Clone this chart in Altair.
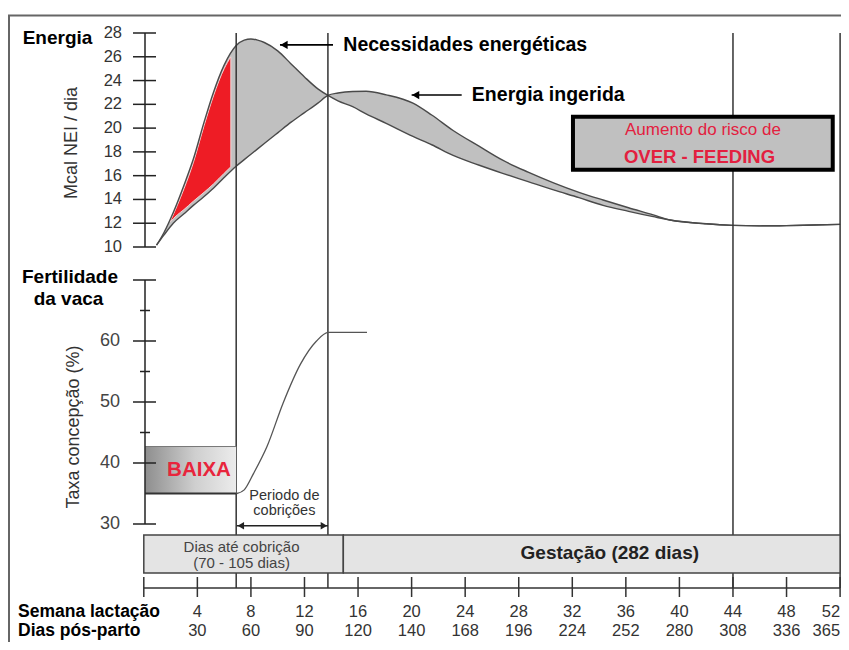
import altair as alt
import pandas as pd

FONT = "Liberation Sans, Arial, Helvetica, sans-serif"

# ---------------- data ----------------
# Energy curves: week of lactation -> Mcal NEl / day
curve_weeks = [0.95, 1.5, 2.2, 3.0, 3.7, 4.5, 5.2, 6.0, 6.9, 7.5, 8.0, 8.5, 9.0, 10.0,
               11.0, 12.0, 13.0, 13.75, 14.5, 15.6, 16.6, 18.1, 20.1, 21.5, 23.1, 25.0,
               26.8, 28.7, 30.6, 32.5, 34.3, 36.2, 38.05, 39.3, 42, 44, 46, 48, 50, 52]
needs_values = [10.15, 11.2, 12.9, 15.2, 17.4, 20.5, 23.0, 25.3, 26.95, 27.4, 27.5, 27.4,
                27.2, 26.5, 25.4, 24.3, 23.3, 22.75, 22.3, 21.8, 21.2, 20.4, 19.3, 18.6,
                17.7, 16.9, 16.2, 15.5, 14.8, 14.15, 13.5, 13.0, 12.55, 12.27, 11.95,
                11.82, 11.78, 11.8, 11.85, 11.9]
intake_values = [10.15, 11.0, 12.0, 12.8, 13.5, 14.25, 14.95, 15.85, 16.8, 17.35, 17.8,
                 18.25, 18.7, 19.6, 20.5, 21.3, 22.1, 22.75, 22.95, 23.08, 23.1, 22.8,
                 22.1, 21.1, 19.8, 18.5, 17.3, 16.3, 15.4, 14.6, 13.95, 13.3, 12.7, 12.27,
                 11.95, 11.82, 11.78, 11.8, 11.85, 11.9]

# Red deficit region
red_weeks = [1.95, 2.5, 3.0, 3.7, 4.5, 5.2, 6.0, 6.5]
red_upper = [12.1, 13.5, 14.9, 17.1, 20.2, 22.7, 25.0, 26.0]
red_lower = [12.1, 12.7, 13.15, 13.85, 14.6, 15.3, 16.2, 16.75]

# Fertility (conception rate %)
fert_weeks = [6.95, 7.5, 8.2, 9.2, 10.4, 11.7, 12.9, 13.78, 16.67]
fert_rate = [35.0, 35.6, 38.3, 42.7, 49.8, 56.2, 60.0, 61.4, 61.4]

# Axes
week_ticks = [0, 4, 8, 12, 16, 20, 24, 28, 32, 36, 40, 44, 48, 52]
week_labels = ["", "4", "8", "12", "16", "20", "24", "28", "32", "36", "40", "44", "48", "52"]
day_labels = ["", "30", "60", "90", "120", "140", "168", "196", "224", "252", "280", "308", "336", "365"]
energy_ticks = [10, 12, 14, 16, 18, 20, 22, 24, 26, 28]
fert_major = [30, 40, 50, 60, 70]
fert_minor = [45, 55, 65]
fert_labels = [30, 40, 50, 60]

# Vertical marker lines (weeks)
marker_weeks = [6.9, 13.75, 44, 52]
marker_top = [28, 28, 28, 28]

# Bottom band segments (weeks)
band_start = [0, 14.9]
band_end = [14.9, 52]

# Annotations
arrow_tip = [10.17, 20.0]
arrow_tail = [14.13, 23.74]
arrow_y = [27.0, 22.78]
arrow_text = ["Necessidades energéticas", "Energia ingerida"]
arrow_text_week = [14.9, 24.5]

box_x = [32.05, 51.45]
box_y = [16.5, 20.95]

baixa_x = [0.1, 6.9]
baixa_y = [35.0, 42.7]

period_x = [6.95, 13.75]
period_y = 29.72

# ---------------- layout (pixels; padding -8 so chart px == page px) ----------------
W, H = 841, 642
xs = alt.Scale(domain=[0, 52], range=[143.8, 840.1], nice=False, zero=False)
es = alt.Scale(domain=[10, 28], range=[247, 33], nice=False, zero=False)
fs = alt.Scale(domain=[30, 70], range=[524, 280], nice=False, zero=False)


def X(field):
    return alt.X(field, type="quantitative", scale=xs, axis=None)


def Y(field, scale):
    return alt.Y(field, type="quantitative", scale=scale, axis=None)


one = pd.DataFrame({"a": [0]})

# ---------------- frame ----------------
frame = alt.Chart(one).mark_rect(filled=False, stroke="#666", strokeWidth=2).encode(
    x=alt.value(9), x2=alt.value(W + 30), y=alt.value(15.5), y2=alt.value(H + 30))

# ---------------- energy panel ----------------
energy_df = pd.DataFrame({"week": curve_weeks, "needs": needs_values, "intake": intake_values})
red_df = pd.DataFrame({"week": red_weeks, "upper": red_upper, "lower": red_lower})

gap = alt.Chart(energy_df).mark_area(color="#c0c0c0", interpolate="monotone").encode(
    x=X("week"), y=Y("needs", es), y2="intake:Q")
red = alt.Chart(red_df).mark_area(color="#ee1c25", interpolate="monotone",
                                  stroke="#f3d3d3", strokeWidth=1).encode(
    x=X("week"), y=Y("upper", es), y2="lower:Q")
needs_line = alt.Chart(energy_df).mark_line(color="#4a4a4a", strokeWidth=1.4,
                                            interpolate="monotone").encode(
    x=X("week"), y=Y("needs", es))
intake_line = alt.Chart(energy_df).mark_line(color="#4a4a4a", strokeWidth=1.4,
                                             interpolate="monotone").encode(
    x=X("week"), y=Y("intake", es))

vlines = alt.Chart(pd.DataFrame({"week": marker_weeks, "top": marker_top})).mark_rule(
    color="#333", strokeWidth=1.5).encode(
    x=X("week"), y=Y("top", es), y2=alt.value(588))

box = alt.Chart(pd.DataFrame({"x1": [box_x[0]], "x2": [box_x[1]],
                              "y1": [box_y[0]], "y2": [box_y[1]]})).mark_rect(
    fill="#c0c0c0", stroke="black", strokeWidth=4).encode(
    x=X("x1"), x2="x2:Q", y=Y("y1", es), y2="y2:Q")

box_t1 = alt.Chart(pd.DataFrame({"week": [41.76], "value": [19.84],
                                 "text": ["Aumento do risco de"]})).mark_text(
    font=FONT, fontSize=17, color="#e3203f", align="center", baseline="middle").encode(
    x=X("week"), y=Y("value", es), text="text:N")
box_t2 = alt.Chart(pd.DataFrame({"week": [41.5], "value": [17.57],
                                 "text": ["OVER - FEEDING"]})).mark_text(
    font=FONT, fontSize=18.5, fontWeight="bold", color="#e3203f", align="center",
    baseline="middle").encode(x=X("week"), y=Y("value", es), text="text:N")

arrow_df = pd.DataFrame({"tip": arrow_tip, "tail": arrow_tail, "value": arrow_y,
                         "text": arrow_text, "tw": arrow_text_week})
arrow_lines = alt.Chart(arrow_df).mark_rule(color="black", strokeWidth=1.6).encode(
    x=X("tip"), x2="tail:Q", y=Y("value", es))
arrow_heads = alt.Chart(arrow_df).mark_point(shape="triangle-left", filled=True,
                                             size=70, color="black", opacity=1,
                                             xOffset=4).encode(
    x=X("tip"), y=Y("value", es))
arrow_texts = alt.Chart(arrow_df).mark_text(
    font=FONT, fontSize=19.5, fontWeight="bold", color="black", align="left",
    baseline="middle").encode(x=X("tw"), y=Y("value", es), text="text:N")

# energy axis (domain line, crossing ticks, labels, titles)
energy_dom = alt.Chart(pd.DataFrame({"lo": [energy_ticks[0]], "hi": [energy_ticks[-1]]})).mark_rule(
    color="#222", strokeWidth=1.5).encode(x=alt.value(145), y=Y("lo", es), y2="hi:Q")
energy_tick_df = pd.DataFrame({"v": energy_ticks, "t": [str(v) for v in energy_ticks]})
energy_ticks_layer = alt.Chart(energy_tick_df).mark_rule(
    color="#222", strokeWidth=1.5).encode(y=Y("v", es), x=alt.value(133), x2=alt.value(156))
energy_labels = alt.Chart(energy_tick_df).mark_text(
    font=FONT, fontSize=16.5, color="#333", align="right", baseline="middle").encode(
    y=Y("v", es), x=alt.value(122), text="t:N")
energy_title = alt.Chart(one).mark_text(
    text="Energia", font=FONT, fontSize=19, fontWeight="bold", color="black",
    align="center", baseline="middle").encode(x=alt.value(57.5), y=alt.value(38))
energy_ytitle = alt.Chart(one).mark_text(
    text="Mcal NEI / dia", font=FONT, fontSize=18, color="#333", angle=270,
    align="center", baseline="middle").encode(x=alt.value(72), y=alt.value(143))

energy_group = alt.layer(gap, red, needs_line, intake_line, vlines, box, box_t1, box_t2,
                         arrow_lines, arrow_heads, arrow_texts, energy_dom,
                         energy_ticks_layer, energy_labels, energy_title, energy_ytitle)

# ---------------- fertility panel ----------------
grad = alt.Gradient(
    gradient="linear",
    stops=[alt.GradientStop(color="#8e8e8e", offset=0),
           alt.GradientStop(color="#cfcfcf", offset=0.55),
           alt.GradientStop(color="#ececec", offset=1)],
    x1=0, x2=1, y1=0, y2=0)

baixa_df = pd.DataFrame({"x1": [baixa_x[0]], "x2": [baixa_x[1]],
                         "y1": [baixa_y[0]], "y2": [baixa_y[1]]})
baixa_rect = alt.Chart(baixa_df).mark_rect(fill=grad).encode(
    x=X("x1"), x2="x2:Q", y=Y("y1", fs), y2="y2:Q")
baixa_top = alt.Chart(baixa_df).mark_rule(color="#777", strokeWidth=1).encode(
    x=X("x1"), x2="x2:Q", y=Y("y2", fs))
baixa_bot = alt.Chart(baixa_df).mark_rule(color="#333", strokeWidth=2).encode(
    x=X("x1"), x2="x2:Q", y=Y("y1", fs))
baixa_text = alt.Chart(pd.DataFrame({"week": [4.12], "value": [38.8],
                                     "text": ["BAIXA"]})).mark_text(
    font=FONT, fontSize=20.5, fontWeight="bold", color="#e8253c", align="center",
    baseline="middle").encode(x=X("week"), y=Y("value", fs), text="text:N")

fert_df = pd.DataFrame({"week": fert_weeks, "rate": fert_rate})
fert_line = alt.Chart(fert_df).mark_line(color="#555", strokeWidth=1.3,
                                         interpolate="monotone").encode(
    x=X("week"), y=Y("rate", fs))

period_text = alt.Chart(pd.DataFrame({"week": [10.5, 10.5], "value": [34.55, 32.05],
                                      "text": ["Periodo de", "cobrições"]})).mark_text(
    font=FONT, fontSize=14.5, color="#333", align="center", baseline="middle").encode(
    x=X("week"), y=Y("value", fs), text="text:N")
period_df = pd.DataFrame({"x1": [period_x[0]], "x2": [period_x[1]], "v": [period_y]})
period_line = alt.Chart(period_df).mark_rule(color="#222", strokeWidth=1.5).encode(
    x=X("x1"), x2="x2:Q", y=Y("v", fs))
period_head_l = alt.Chart(period_df).mark_point(shape="triangle-left", filled=True,
                                                size=55, color="#222", opacity=1,
                                                xOffset=4).encode(
    x=X("x1"), y=Y("v", fs))
period_head_r = alt.Chart(period_df).mark_point(shape="triangle-right", filled=True,
                                                size=55, color="#222", opacity=1,
                                                xOffset=-4).encode(
    x=X("x2"), y=Y("v", fs))

fert_dom = alt.Chart(pd.DataFrame({"lo": [fert_major[0]], "hi": [fert_major[-1]]})).mark_rule(
    color="#222", strokeWidth=1.5).encode(x=alt.value(145), y=Y("lo", fs), y2="hi:Q")
fert_major_layer = alt.Chart(pd.DataFrame({"v": fert_major})).mark_rule(
    color="#222", strokeWidth=1.5).encode(y=Y("v", fs), x=alt.value(133), x2=alt.value(156))
fert_minor_layer = alt.Chart(pd.DataFrame({"v": fert_minor})).mark_rule(
    color="#222", strokeWidth=1.5).encode(y=Y("v", fs), x=alt.value(140), x2=alt.value(150))
fert_labels_layer = alt.Chart(pd.DataFrame({"v": fert_labels,
                                            "t": [str(v) for v in fert_labels]})).mark_text(
    font=FONT, fontSize=18, color="#444", align="right", baseline="middle").encode(
    y=Y("v", fs), x=alt.value(120), text="t:N")

fert_title = alt.Chart(pd.DataFrame({"t": ["Fertilidade", "da vaca"], "xx": [70, 68.5],
                                     "yy": [277, 299]})).mark_text(
    font=FONT, fontSize=19, fontWeight="bold", color="black", align="center",
    baseline="middle").encode(x=alt.X("xx:Q", scale=None), y=alt.Y("yy:Q", scale=None),
                              text="t:N")
fert_ytitle = alt.Chart(one).mark_text(
    text="Taxa concepção (%)", font=FONT, fontSize=18, color="#333", angle=270,
    align="center", baseline="middle").encode(x=alt.value(74), y=alt.value(427))

# bottom band and week axis
band_df = pd.DataFrame({"s": band_start, "e": band_end})
band = alt.Chart(band_df).mark_rect(fill="#e4e4e4", stroke="#444", strokeWidth=1.5).encode(
    x=X("s"), x2="e:Q", y=alt.value(535), y2=alt.value(573))
band_t1 = alt.Chart(pd.DataFrame({"week": [7.3, 7.3], "yy": [546.5, 563],
                                  "text": ["Dias até cobrição", "(70 - 105 dias)"]})).mark_text(
    font=FONT, fontSize=15, color="#444", align="center", baseline="middle").encode(
    x=X("week"), y=alt.Y("yy:Q", scale=None), text="text:N")
band_t2 = alt.Chart(pd.DataFrame({"week": [34.8], "text": ["Gestação (282 dias)"]})).mark_text(
    font=FONT, fontSize=19, fontWeight="bold", color="#222", align="center",
    baseline="middle").encode(x=X("week"), y=alt.value(553), text="text:N")

axis_line = alt.Chart(pd.DataFrame({"s": [week_ticks[0]], "e": [week_ticks[-1]]})).mark_rule(
    color="#333", strokeWidth=1.5).encode(x=X("s"), x2="e:Q", y=alt.value(588))
week_tick_df = pd.DataFrame({"week": week_ticks, "wl": week_labels, "dl": day_labels})
inner_df = week_tick_df.iloc[:-1]
last_df = week_tick_df.iloc[-1:]
week_tick_layer = alt.Chart(week_tick_df).mark_rule(color="#333", strokeWidth=1.5).encode(
    x=X("week"), y=alt.value(577), y2=alt.value(597))
WEEK_Y, DAY_Y = 612, 630.5
LBL = 16.5
week_label_layer = alt.Chart(inner_df).mark_text(
    font=FONT, fontSize=LBL, color="#333", align="center", baseline="middle").encode(
    x=X("week"), y=alt.value(WEEK_Y), text="wl:N")
day_label_layer = alt.Chart(inner_df).mark_text(
    font=FONT, fontSize=LBL, color="#333", align="center", baseline="middle").encode(
    x=X("week"), y=alt.value(DAY_Y), text="dl:N")
week_label_last = alt.Chart(last_df).mark_text(
    font=FONT, fontSize=LBL, color="#333", align="right", baseline="middle").encode(
    x=X("week"), y=alt.value(WEEK_Y), text="wl:N")
day_label_last = alt.Chart(last_df).mark_text(
    font=FONT, fontSize=LBL, color="#333", align="right", baseline="middle").encode(
    x=X("week"), y=alt.value(DAY_Y), text="dl:N")
axis_titles = alt.Chart(pd.DataFrame({"t": ["Semana lactação", "Dias pós-parto"],
                                      "yy": [WEEK_Y, DAY_Y]})).mark_text(
    font=FONT, fontSize=17.5, fontWeight="bold", color="black", align="left",
    baseline="middle").encode(x=alt.value(18), y=alt.Y("yy:Q", scale=None), text="t:N")

fert_group = alt.layer(baixa_rect, baixa_top, baixa_bot, baixa_text, fert_line,
                       period_text, period_line, period_head_l, period_head_r,
                       fert_dom, fert_major_layer, fert_minor_layer, fert_labels_layer,
                       fert_title, fert_ytitle,
                       band, band_t1, band_t2, axis_line, week_tick_layer,
                       week_label_layer, day_label_layer, week_label_last, day_label_last,
                       axis_titles)

chart = alt.layer(energy_group, fert_group, frame).resolve_scale(
    y="independent"
).properties(
    width=W, height=H, autosize=alt.AutoSizeParams(type="none"),
    padding={"top": -8, "left": -8, "right": 0, "bottom": 0},
    background="white"
).configure_view(stroke=None)

chart.save("out.html", embed_options={"renderer": "svg", "actions": False})
